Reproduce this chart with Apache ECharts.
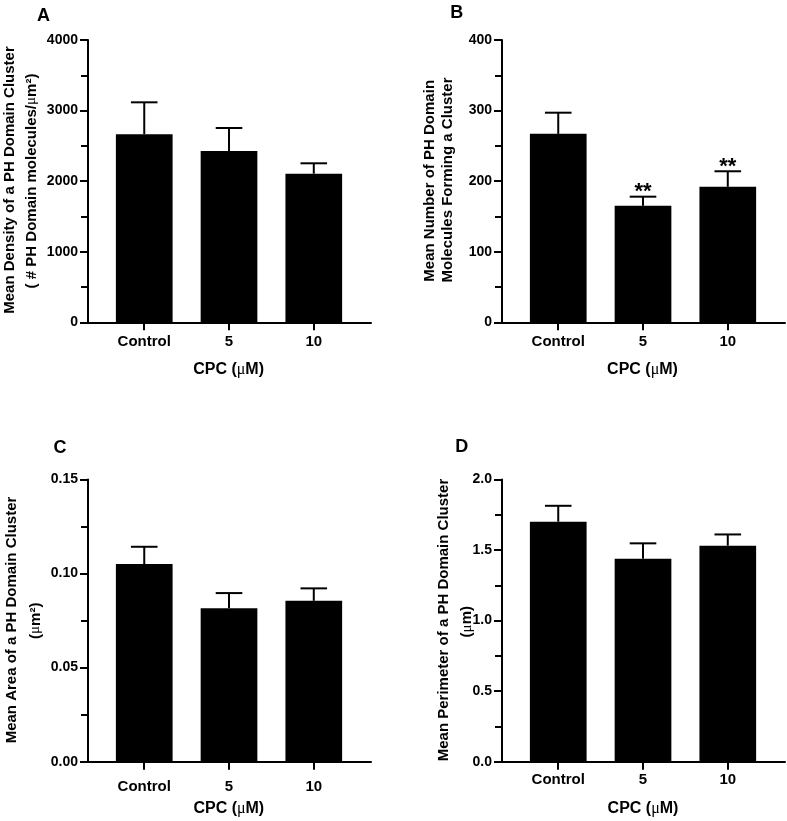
<!DOCTYPE html>
<html><head><meta charset="utf-8">
<script src="https://cdn.jsdelivr.net/npm/echarts@6/dist/echarts.min.js"></script>
<style>html,body{margin:0;padding:0;background:#fff;}#c{width:787px;height:821px;}</style>
</head><body><div id="c"></div>
<script>
// ---- data ----
const categories = ['Control', '5', '10'];
const densityMean = [2664, 2427, 2106];
const densityErr = [453, 326, 147];
const numberMean = [267, 165, 192];
const numberErr = [30, 13, 22];
const numberSig = ['', '**', '**'];
const areaMean = [0.105, 0.0816, 0.0855];
const areaErr = [0.0092, 0.0080, 0.0066];
const perimMean = [1.70, 1.438, 1.530];
const perimErr = [0.113, 0.109, 0.080];
const densityTicks = [0, 1000, 2000, 3000, 4000];
const numberTicks = [0, 100, 200, 300, 400];
const areaTicks = [0, 0.05, 0.10, 0.15];
const perimTicks = [0, 0.5, 1.0, 1.5, 2.0];
const xTitle = 'CPC ({mu|μ}M)';

// ---- layout ----
const FF = '"Liberation Sans", Arial, Helvetica, sans-serif';
const xMin = -0.6635, xMax = 2.675;
const panels = [
  {grid: {left: 88, top: 40, width: 283, height: 282.3}, mean: densityMean, err: densityErr, sig: null, ticks: densityTicks, dec: 0, xMargin: 19.5},
  {grid: {left: 502, top: 40, width: 283, height: 282.3}, mean: numberMean, err: numberErr, sig: numberSig, ticks: numberTicks, dec: 0, xMargin: 19.5},
  {grid: {left: 88, top: 479.4, width: 283, height: 282.3}, mean: areaMean, err: areaErr, sig: null, ticks: areaTicks, dec: 2, xMargin: 25},
  {grid: {left: 502, top: 479.4, width: 283, height: 282.3}, mean: perimMean, err: perimErr, sig: null, ticks: perimTicks, dec: 1, xMargin: 18.5}
];
const black = '#000';
const axisLineStyle = {color: black, width: 2};

const grids = [], xAxes = [], yAxes = [], series = [];
panels.forEach((p, i) => {
  grids.push(Object.assign({containLabel: false}, p.grid));
  xAxes.push({
    type: 'value', gridIndex: i, min: xMin, max: xMax,
    axisLine: {show: true, onZero: false, lineStyle: axisLineStyle},
    splitLine: {show: false},
    axisTick: {show: true, customValues: [0, 1, 2], length: 8, lineStyle: axisLineStyle},
    axisLabel: {
      customValues: [0, 1, 2], formatter: v => categories[Math.round(v)],
      margin: p.xMargin, verticalAlign: 'middle', color: black,
      fontSize: 15, fontWeight: 'bold', fontFamily: FF
    }
  });
  const step = p.ticks[1] - p.ticks[0];
  yAxes.push({
    type: 'value', gridIndex: i, min: p.ticks[0], max: p.ticks[p.ticks.length - 1], interval: step,
    axisLine: {show: true, onZero: false, lineStyle: axisLineStyle},
    splitLine: {show: false},
    axisTick: {show: true, length: 8, lineStyle: axisLineStyle},
    minorTick: {show: true, splitNumber: 2, length: 7, lineStyle: axisLineStyle},
    minorSplitLine: {show: false},
    axisLabel: {
      margin: 10, color: black, fontSize: 14, fontWeight: 'bold', fontFamily: FF,
      formatter: v => Number(v).toFixed(p.dec)
    }
  });
  series.push({
    type: 'bar', xAxisIndex: i, yAxisIndex: i, barWidth: 56.7,
    itemStyle: {color: black}, silent: true,
    data: p.mean.map((v, k) => [k, v])
  });
  series.push({
    type: 'custom', xAxisIndex: i, yAxisIndex: i, silent: true, z: 5,
    data: p.mean.map((v, k) => [k, v, v + p.err[k]]),
    encode: {x: 0, y: [1, 2]},
    renderItem: (params, api) => {
      const x = api.value(0);
      const lo = api.coord([x, api.value(1)]);
      const hi = api.coord([x, api.value(2)]);
      const half = 13.3;
      const children = [
        {type: 'line', shape: {x1: lo[0], y1: lo[1], x2: hi[0], y2: hi[1]}, style: {stroke: black, lineWidth: 2}},
        {type: 'line', shape: {x1: hi[0] - half, y1: hi[1], x2: hi[0] + half, y2: hi[1]}, style: {stroke: black, lineWidth: 2}}
      ];
      const s = p.sig ? p.sig[params.dataIndex] : '';
      if (s) {
        children.push({type: 'text', x: hi[0], y: hi[1] - 4.8,
          style: {text: s, align: 'center', verticalAlign: 'middle', fill: black,
                  fontSize: 22, fontWeight: 'bold', fontFamily: FF}});
      }
      return {type: 'group', children};
    }
  });
});

const muRich = {mu: {fontSize: 15, fontWeight: 'normal', fontFamily: '"Liberation Serif", serif', fill: black}};
const muRichX = {mu: {fontSize: 16, fontWeight: 'normal', fontFamily: '"Liberation Serif", serif', fill: black}};
function txt(x, y, text, size, rot, rich) {
  return {type: 'text', x, y, rotation: rot ? Math.PI / 2 : 0, silent: true,
    style: {text, align: 'center', verticalAlign: 'middle', fill: black,
            fontSize: size, fontWeight: 'bold', fontFamily: FF, rich: rich || undefined}};
}
const graphic = [
  txt(43.5, 16.5, 'A', 18), txt(456.7, 13.3, 'B', 18),
  txt(60, 448.3, 'C', 18), txt(461.7, 446.7, 'D', 18),
  txt(9.5, 180, 'Mean Density of a PH Domain Cluster', 15, true),
  txt(31.5, 181, '( # PH Domain molecules/{mu|μ}m²)', 15, true, muRich),
  txt(430, 180.8, 'Mean Number of PH Domain', 15, true),
  txt(447.5, 180, 'Molecules Forming a Cluster', 15, true),
  txt(11.5, 620, 'Mean Area of a PH Domain Cluster', 15, true),
  txt(35.5, 620.8, '({mu|μ}m²)', 15, true, muRich),
  txt(443.8, 620, 'Mean Perimeter of a PH Domain Cluster', 15, true),
  txt(467.3, 621.7, '({mu|μ}m)', 15, true, muRich),
  txt(228.6, 369.3, xTitle, 16, false, muRichX),
  txt(642.5, 369.3, xTitle, 16, false, muRichX),
  txt(228.8, 808.3, xTitle, 16, false, muRichX),
  txt(643, 808.3, xTitle, 16, false, muRichX)
];

const chart = echarts.init(document.getElementById('c'), null, {renderer: 'canvas'});
chart.setOption({
  animation: false, backgroundColor: '#fff',
  grid: grids, xAxis: xAxes, yAxis: yAxes, series, graphic
});
</script></body></html>
